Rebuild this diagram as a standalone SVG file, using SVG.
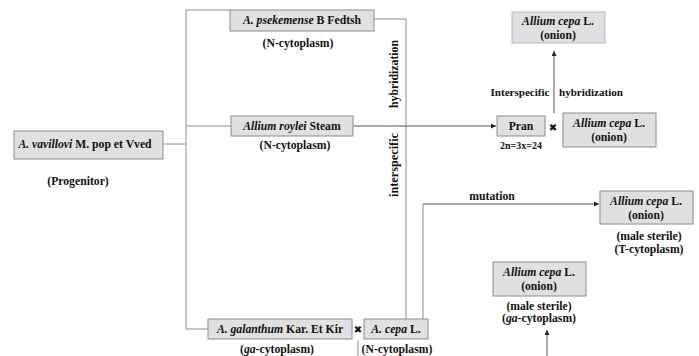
<svg xmlns="http://www.w3.org/2000/svg" width="699" height="356" viewBox="0 0 699 356">
<style>
.box{fill:#e0e0e0;stroke:#8c8c8c;stroke-width:1}
.bbox{fill:#e0e0e0;stroke:#a9bcd6;stroke-width:1}
.t{font-family:'Liberation Serif','Times New Roman',serif;font-weight:bold;font-size:11.7px;fill:#111;text-anchor:middle}
.s{font-size:10px}
.m{font-size:10.6px}
.ln{fill:none;stroke:#8c8c8c;stroke-width:1}
.ar{fill:none;stroke:#555;stroke-width:1}
.x{font-family:'DejaVu Sans',sans-serif;font-weight:bold;font-size:10px;fill:#111;text-anchor:middle}
</style>
<defs>
<marker id="ah" viewBox="0 0 6 6" refX="6" refY="3" markerWidth="5" markerHeight="5" orient="auto">
<path d="M0,0 L6,3 L0,6 z" fill="#222"/>
</marker>
</defs>
<rect width="699" height="356" fill="#fff"/>
<g id="connectors">
<path class="ln" d="M163,144 H186"/>
<path class="ln" d="M186,10 V329"/>
<path class="ln" d="M186,10 H230"/>
<path class="ln" d="M186,126 H231"/>
<path class="ln" d="M186,329 H208"/>
<path class="ln" d="M374,19 H406 V319"/>
<path class="ar" d="M353,126 H496" marker-end="url(#ah)"/>
<path class="ln" d="M423,319 V204"/>
<path class="ar" d="M423,204 H599" marker-end="url(#ah)"/>
<path class="ar" d="M554,113 V51" marker-end="url(#ah)"/>
<path class="ar" d="M547,356 V330" marker-end="url(#ah)"/>
<path class="ln" d="M358,341 V356"/>
<text class="t" font-size="11" textLength="68" lengthAdjust="spacingAndGlyphs" transform="translate(398,74) rotate(-90)">hybridization</text>
<text class="t" font-size="11" textLength="64" lengthAdjust="spacingAndGlyphs" transform="translate(398,165) rotate(-90)">interspecific</text>
<text class="t m" x="520" y="96" textLength="59" lengthAdjust="spacingAndGlyphs">Interspecific</text>
<text class="t m" x="591" y="96" textLength="64" lengthAdjust="spacingAndGlyphs">hybridization</text>
<text class="t" font-size="11" x="492" y="200">mutation</text>
<text class="x" x="553" y="131">✖</text>
<text class="x" x="358" y="333">✖</text>
</g>
<g id="vavillovi">
<rect class="box" x="14" y="131" width="149" height="28"/>
<text class="t" x="85" y="148"><tspan font-style="italic">A. vavillovi</tspan> M. pop et Vved</text>
<text class="t" x="78" y="185">(Progenitor)</text>
</g>
<g id="psekemense">
<rect class="box" x="230" y="10" width="144" height="21"/>
<text class="t" x="302" y="24"><tspan font-style="italic">A. psekemense</tspan> B Fedtsh</text>
<text class="t" x="298" y="47">(N-cytoplasm)</text>
</g>
<g id="roylei">
<rect class="box" x="231" y="116" width="122" height="20"/>
<text class="t" x="292" y="130"><tspan font-style="italic">Allium roylei</tspan> Steam</text>
<text class="t" x="295" y="149">(N-cytoplasm)</text>
</g>
<g id="galanthum">
<rect class="box" x="208" y="319" width="144" height="20"/>
<text class="t" x="280" y="333"><tspan font-style="italic">A. galanthum</tspan> Kar. Et Kir</text>
<text class="t" x="277" y="353">(<tspan font-style="italic">ga</tspan>-cytoplasm)</text>
</g>
<g id="cepaN">
<rect class="box" x="364" y="319" width="64" height="20"/>
<text class="t" x="396" y="333"><tspan font-style="italic">A. cepa</tspan> L.</text>
<text class="t" x="397" y="353">(N-cytoplasm)</text>
</g>
<g id="pran">
<rect class="box" x="497" y="116" width="48" height="20"/>
<text class="t" x="521" y="130">Pran</text>
<text class="t s" x="521" y="149">2n=3x=24</text>
</g>
<g id="cepaOnion">
<rect class="box" x="563" y="113" width="93" height="34"/>
<text class="t" x="609" y="127"><tspan font-style="italic">Allium cepa</tspan> L.</text>
<text class="t" x="609" y="141">(onion)</text>
</g>
<g id="cepaTop">
<rect class="bbox" x="512" y="12" width="93" height="31"/>
<text class="t" x="558" y="25"><tspan font-style="italic">Allium cepa</tspan> L.</text>
<text class="t" x="558" y="39">(onion)</text>
</g>
<g id="cepaT">
<rect class="box" x="600" y="191" width="93" height="33"/>
<text class="t" x="646" y="205"><tspan font-style="italic">Allium cepa</tspan> L.</text>
<text class="t" x="646" y="219">(onion)</text>
<text class="t" x="649" y="240">(male sterile)</text>
<text class="t" x="649" y="253">(T-cytoplasm)</text>
</g>
<g id="cepaGa">
<rect class="box" x="493" y="262" width="93" height="34"/>
<text class="t" x="539" y="276"><tspan font-style="italic">Allium cepa</tspan> L.</text>
<text class="t" x="539" y="290">(onion)</text>
<text class="t" x="539" y="310">(male sterile)</text>
<text class="t" x="539" y="322">(<tspan font-style="italic">ga</tspan>-cytoplasm)</text>
</g>
</svg>
